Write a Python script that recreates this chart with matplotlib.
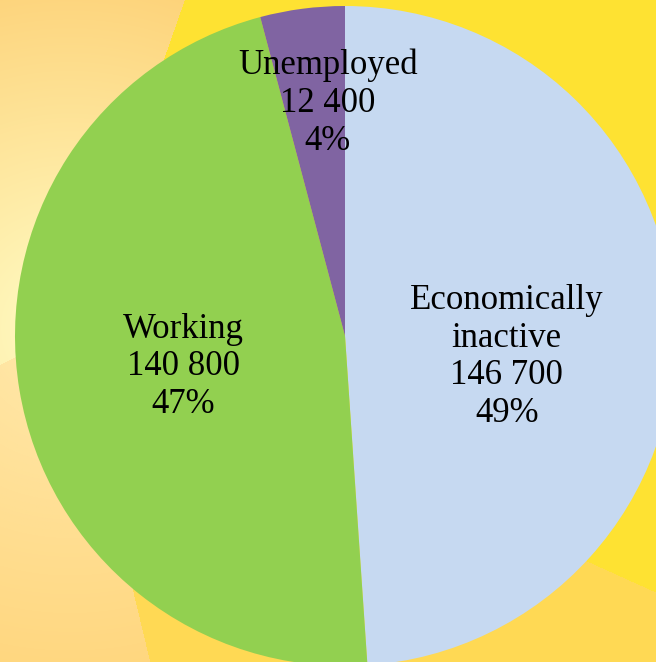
import numpy as np
import matplotlib
matplotlib.use("Agg")
import matplotlib.pyplot as plt

# ---- data ----
categories = ["Economically\ninactive", "Working", "Unemployed"]
values = [146700, 140800, 12400]
colors = ["#C6D9F1", "#92D050", "#8064A2"]

W, H = 656, 662
fig = plt.figure(figsize=(W / 100, H / 100), dpi=100)
ax = fig.add_axes([0, 0, 1, 1])
ax.set_xlim(0, W)
ax.set_ylim(0, H)
ax.set_aspect("equal")
ax.axis("off")

# ---- sunburst background (decoration) ----
yy, xx = np.mgrid[0:H, 0:W] + 0.5
scx, scy = 70.0, 328.0
ang = np.degrees(np.arctan2(yy - scy, xx - scx))
dist = np.hypot(xx - scx, yy - scy)
img = np.zeros((H, W, 3))

def blend(c1, c2, t):
    t = np.clip(t, 0, 1)[..., None]
    return (np.array(c1) * (1 - t) + np.array(c2) * t) / 255.0

secA = (ang >= -70.7) & (ang < 24.3)
secB = (ang >= 24.3) & (ang < 76.5)
secC = (ang >= 76.5) & (ang < 152)
secD = ~(secA | secB | secC)
t = (dist - 60) / 300.0
img[secA] = np.array([254, 226, 50]) / 255.0
img[secB] = np.array([255, 217, 84]) / 255.0
cimg = blend([255, 230, 165], [255, 214, 125], t)
dimg = blend([255, 245, 184], [253, 210, 120], t)
img[secC] = cimg[secC]
img[secD] = dimg[secD]
ax.imshow(img, extent=(0, W, 0, H), origin="upper", zorder=0)

# ---- pie ----
cx, cy, R = 345, H - 336, 330
wedges, _ = ax.pie(values, colors=colors, startangle=90, counterclock=False,
                   center=(cx, cy), radius=R, frame=True,
                   wedgeprops=dict(linewidth=0))
ax.set_xlim(0, W)
ax.set_ylim(0, H)
ax.axis("off")

total = sum(values)
label_r = [0.49, 0.50, 0.72]
ang_off = [-8, 0, -3]
for w, cat, v, lr, ao in zip(wedges, categories, values, label_r, ang_off):
    mid = np.radians((w.theta1 + w.theta2) / 2 + ao)
    x = cx + lr * R * np.cos(mid) + 1
    y = cy + lr * R * np.sin(mid) - 4
    txt = f"{cat}\n{v:,}".replace(",", " ") + f"\n{round(100 * v / total)}%"
    ax.text(x, y, txt, ha="center", va="center", multialignment="center",
            fontsize=25, family="Liberation Serif", linespacing=1.19,
            color="black", zorder=5)

fig.savefig("out.png", dpi=100)
